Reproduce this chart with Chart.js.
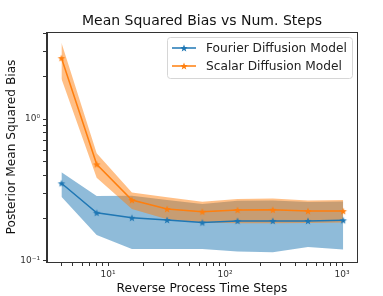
<!DOCTYPE html>
<html>
<head>
<meta charset="utf-8">
<script src="https://cdn.jsdelivr.net/npm/chart.js@4/dist/chart.umd.min.js"></script>
<style>
  html, body { margin: 0; padding: 0; background: #fff; }
</style>
</head>
<body>
<canvas id="biasChart" width="383" height="296"></canvas>
<script>
// reverse process steps (x) and the two models' values
const steps = [4, 8, 16, 32, 64, 128, 256, 512, 1024];
const fourierMean  = [0.352, 0.218, 0.201, 0.194, 0.186, 0.191, 0.191, 0.191, 0.193];
const fourierUpper = [0.421, 0.286, 0.287, 0.268, 0.251, 0.265, 0.266, 0.260, 0.262];
const fourierLower = [0.283, 0.152, 0.121, 0.121, 0.121, 0.116, 0.115, 0.125, 0.120];
const scalarMean  = [2.69, 0.479, 0.268, 0.232, 0.222, 0.228, 0.229, 0.224, 0.224];
const scalarUpper = [3.45, 0.573, 0.303, 0.280, 0.261, 0.273, 0.275, 0.266, 0.268];
const scalarLower = [1.92, 0.385, 0.232, 0.196, 0.186, 0.184, 0.184, 0.185, 0.186];

const seriesNames = ['Fourier Diffusion Model', 'Scalar Diffusion Model'];
const xTicks = [4, 5, 6, 7, 8, 9, 10, 20, 30, 40, 50, 60, 70, 80, 90, 100, 200, 300, 400, 500, 600, 700, 800, 900, 1000];
const xTickLabels = { 10: '10¹', 100: '10²', 1000: '10³' };
const yTicks = [0.1, 0.2, 0.3, 0.4, 0.5, 0.6, 0.7, 0.8, 0.9, 1, 2, 3, 4];
const yTickLabels = { 0.1: '10⁻¹', 1: '10⁰' };

const BLUE = '#1f77b4';
const ORANGE = '#ff7f0e';
const FONT = 'DejaVu Sans';

// filled 5-point star like matplotlib's '*' marker
function makeStar(color, r) {
  const size = Math.ceil(r * 2 + 2);
  const c = document.createElement('canvas');
  c.width = size; c.height = size;
  const g = c.getContext('2d');
  g.fillStyle = color;
  g.beginPath();
  for (let i = 0; i < 10; i++) {
    const rad = i % 2 ? r * 0.42 : r;
    const a = -Math.PI / 2 + i * Math.PI / 5;
    g.lineTo(size / 2 + rad * Math.cos(a), size / 2 + rad * Math.sin(a) + 0.4);
  }
  g.closePath();
  g.fill();
  return c;
}
const blueStar = makeStar(BLUE, 3.9);
const orangeStar = makeStar(ORANGE, 3.9);

const pts = arr => steps.map((s, i) => ({ x: s, y: arr[i] }));

function band(data, color, target, order) {
  return {
    data: pts(data), borderWidth: 0, pointRadius: 0, backgroundColor: color,
    fill: target === null ? false : { target: target }, order: order
  };
}

function line(data, color, star, label, order) {
  return {
    label: label, data: pts(data), borderColor: color, backgroundColor: color,
    borderWidth: 1.5, pointStyle: star, pointRadius: 4, fill: false, tension: 0, order: order
  };
}

// axes frame (all four spines)
const framePlugin = {
  id: 'frame',
  afterDatasetsDraw(chart) {
    const a = chart.chartArea, ctx = chart.ctx;
    ctx.save();
    ctx.strokeStyle = '#333';
    ctx.lineWidth = 1;
    ctx.strokeRect(Math.round(a.left) - 0.5, Math.round(a.top) + 0.5,
      Math.round(a.right - a.left) + 1, Math.round(a.bottom - a.top));
    ctx.restore();
  }
};

// matplotlib-style legend inside the axes, upper right
const legendPlugin = {
  id: 'mplLegend',
  afterDraw(chart) {
    const ctx = chart.ctx;
    ctx.save();
    ctx.beginPath();
    ctx.roundRect(167.5, 37.5, 185, 41, 3);
    ctx.fillStyle = 'rgba(255,255,255,0.8)';
    ctx.fill();
    ctx.strokeStyle = '#d6d6d6';
    ctx.lineWidth = 1;
    ctx.stroke();
    const rows = [[BLUE, blueStar, 48], [ORANGE, orangeStar, 66]];
    rows.forEach((r, i) => {
      ctx.strokeStyle = r[0];
      ctx.lineWidth = 1.5;
      ctx.beginPath();
      ctx.moveTo(172, r[2]);
      ctx.lineTo(196, r[2]);
      ctx.stroke();
      ctx.drawImage(r[1], 184 - r[1].width / 2, r[2] - r[1].height / 2);
      ctx.fillStyle = '#222';
      ctx.font = '12.2px "' + FONT + '"';
      ctx.textBaseline = 'middle';
      ctx.fillText(seriesNames[i], 206, r[2] + 0.5);
    });
    ctx.restore();
  }
};

const isPow10 = v => Math.abs(Math.log10(v) - Math.round(Math.log10(v))) < 1e-9;

const ctx = document.getElementById('biasChart').getContext('2d');
new Chart(ctx, {
  type: 'line',
  data: {
    datasets: [
      band(fourierLower, 'rgba(31,119,180,0.5)', null, 6),
      band(fourierUpper, 'rgba(31,119,180,0.5)', 0, 5),
      line(fourierMean, BLUE, blueStar, seriesNames[0], 2),
      band(scalarLower, 'rgba(255,127,14,0.5)', null, 4),
      band(scalarUpper, 'rgba(255,127,14,0.5)', 3, 3),
      line(scalarMean, ORANGE, orangeStar, seriesNames[1], 1)
    ]
  },
  options: {
    responsive: false,
    animation: false,
    devicePixelRatio: 1,
    layout: { padding: { left: 0, right: 26, top: 0, bottom: 0 } },
    plugins: {
      legend: { display: false },
      tooltip: { enabled: false },
      title: {
        display: true,
        text: 'Mean Squared Bias vs Num. Steps',
        color: '#111',
        fullSize: false,
        font: { family: FONT, size: 14, weight: 'normal' },
        padding: { top: 13, bottom: 2.2 }
      }
    },
    scales: {
      x: {
        type: 'logarithmic',
        min: 3.01,
        max: 1343,
        afterBuildTicks: s => { s.ticks = xTicks.map(v => ({ value: v })); },
        afterFit: s => { s.height = 34; },
        grid: { drawOnChartArea: false, drawTicks: true, tickLength: 4, color: '#333' },
        border: { display: true, color: '#333' },
        ticks: {
          autoSkip: false, maxRotation: 0, padding: 3, color: '#333',
          font: { family: FONT, size: 9 },
          callback: v => isPow10(v) ? xTickLabels[Math.round(v)] : ''
        },
        title: {
          display: true, text: 'Reverse Process Time Steps', color: '#111',
          font: { family: FONT, size: 12.2 }, padding: { top: 0, bottom: 0 }
        }
      },
      y: {
        type: 'logarithmic',
        min: 0.098,
        max: 4.11,
        afterBuildTicks: s => { s.ticks = yTicks.map(v => ({ value: v })); },
        afterFit: s => { s.width = 47; },
        grid: { drawOnChartArea: false, drawTicks: true, tickLength: 4, color: '#333' },
        border: { display: true, color: '#333' },
        ticks: {
          autoSkip: false, padding: 3, color: '#333',
          font: { family: FONT, size: 9 },
          callback: v => isPow10(v) ? (v < 0.5 ? yTickLabels[0.1] : yTickLabels[1]) : ''
        },
        title: {
          display: true, text: 'Posterior Mean Squared Bias', color: '#111',
          font: { family: FONT, size: 12.2 }, padding: { top: 4.5, bottom: 0 }
        }
      }
    }
  },
  plugins: [framePlugin, legendPlugin]
});
</script>
</body>
</html>
